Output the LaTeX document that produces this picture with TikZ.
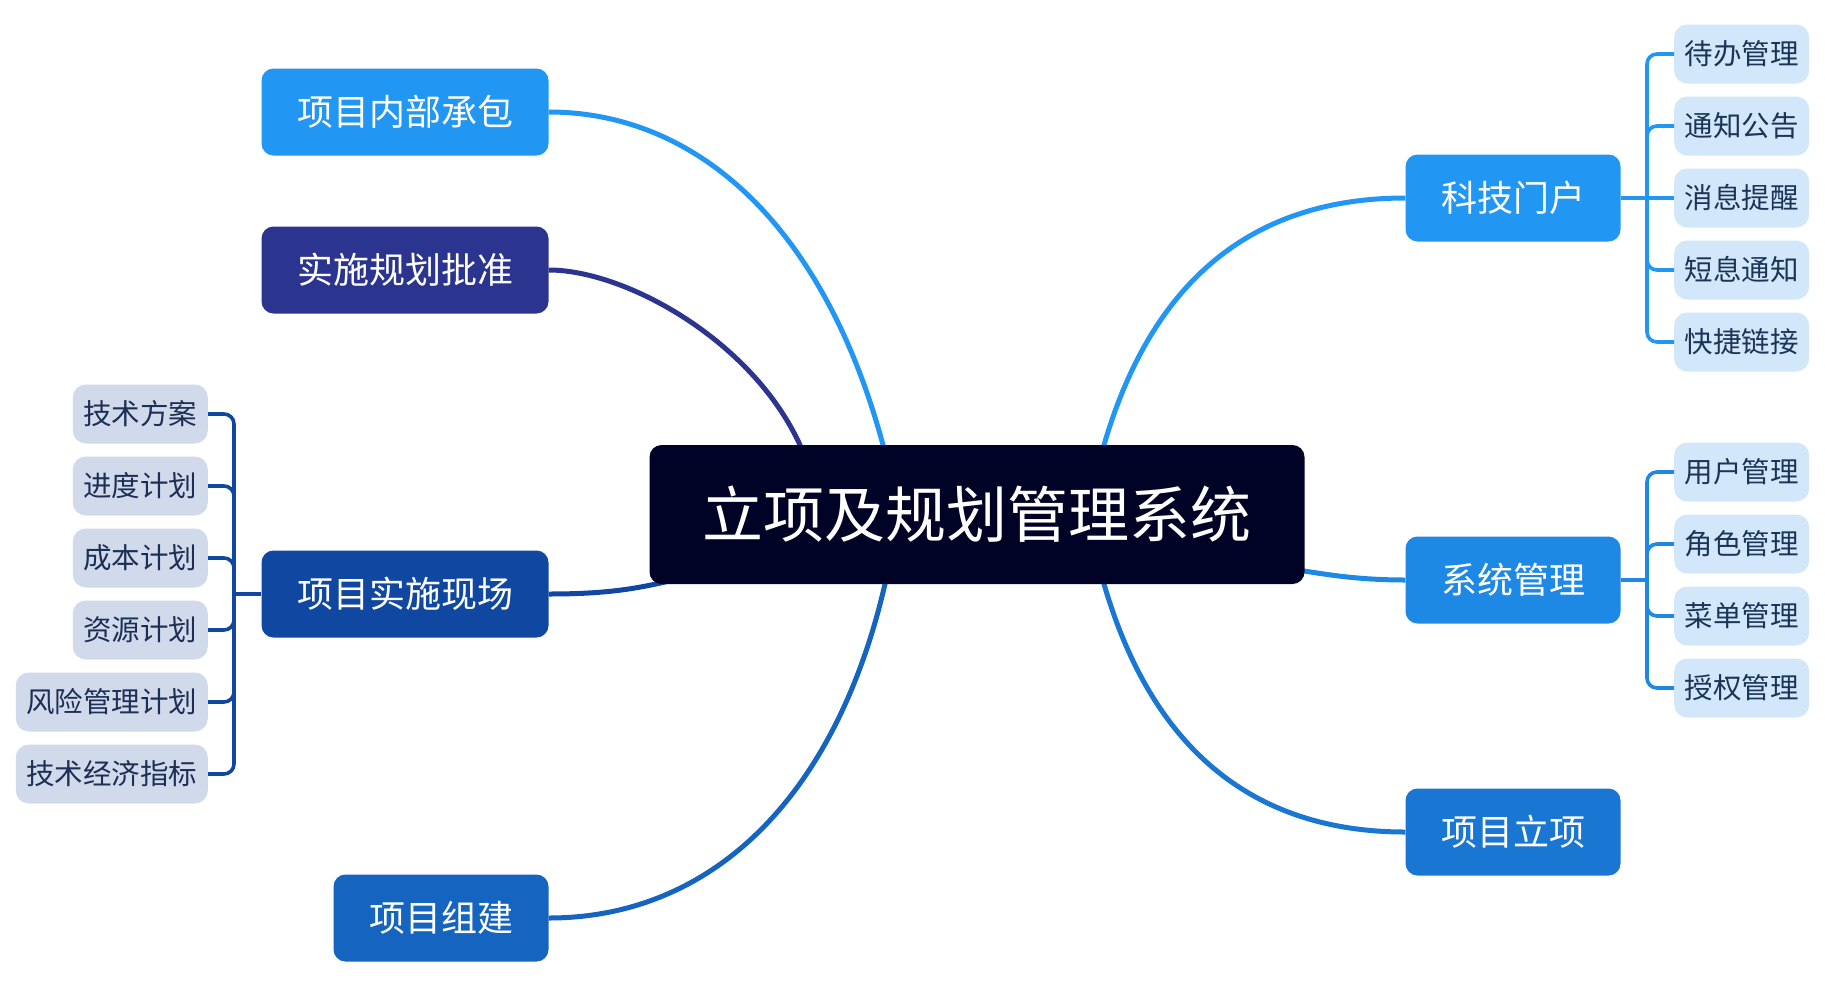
\documentclass[tikz,border=0pt]{standalone}
\usepackage{fontspec}
\setmainfont{Noto Sans CJK SC}
\definecolor{cA}{HTML}{2196F3}
\definecolor{cB}{HTML}{2B3590}
\definecolor{cC}{HTML}{0F47A1}
\definecolor{cD}{HTML}{1565C0}
\definecolor{cE}{HTML}{1E88E5}
\definecolor{cF}{HTML}{1976D2}
\definecolor{cCenter}{HTML}{010326}
\definecolor{leafRfill}{HTML}{D3E7FA}
\definecolor{leafRtext}{HTML}{1B3558}
\definecolor{leafLfill}{HTML}{D0DAEB}
\definecolor{leafLtext}{HTML}{1E2F56}
\begin{document}
\begin{tikzpicture}[x=1pt,y=-1pt,
  mainbox/.style={rounded corners=12pt, text=white, font=\fontsize{36}{40}\selectfont,
    minimum height=87pt, inner xsep=35.5pt, inner ysep=0pt, text height=31.7pt, text depth=4.3pt},
  centerbox/.style={rounded corners=12pt, fill=cCenter, text=white, font=\fontsize{61}{66}\selectfont,
    minimum height=139pt, inner xsep=53pt, inner ysep=0pt, text height=53.7pt, text depth=7.3pt},
  leafR/.style={rounded corners=13pt, fill=leafRfill, text=leafRtext, font=\fontsize{28.5}{32}\selectfont,
    minimum height=59pt, inner xsep=10.5pt, inner ysep=0pt, text height=25.1pt, text depth=3.4pt, anchor=west},
  leafL/.style={rounded corners=13pt, fill=leafLfill, text=leafLtext, font=\fontsize{28.5}{32}\selectfont,
    minimum height=59pt, inner xsep=10.5pt, inner ysep=0pt, text height=25.1pt, text depth=3.4pt, anchor=east},
  branch/.style={line width=5pt},
  bracket/.style={line width=3.6pt, rounded corners=10pt}
]
\useasboundingbox (0,0) rectangle (1825,980);

% main topic nodes
\node[mainbox, fill=cA] (n1) at (405,112) {项目内部承包};
\node[mainbox, fill=cB] (n2) at (405,270) {实施规划批准};
\node[mainbox, fill=cC] (n3) at (405,594) {项目实施现场};
\node[mainbox, fill=cD] (n4) at (441,918) {项目组建};
\node[mainbox, fill=cA] (n5) at (1513,198) {科技门户};
\node[mainbox, fill=cE] (n6) at (1513,580) {系统管理};
\node[mainbox, fill=cF] (n7) at (1513,832) {项目立项};

% left leaves
\node[leafL] (l1) at (208,414) {技术方案};
\node[leafL] (l2) at (208,486) {进度计划};
\node[leafL] (l3) at (208,558) {成本计划};
\node[leafL] (l4) at (208,630) {资源计划};
\node[leafL] (l5) at (208,702) {风险管理计划};
\node[leafL] (l6) at (208,774) {技术经济指标};

% right leaves (科技门户)
\node[leafR] (r1) at (1674,54) {待办管理};
\node[leafR] (r2) at (1674,126) {通知公告};
\node[leafR] (r3) at (1674,198) {消息提醒};
\node[leafR] (r4) at (1674,270) {短息通知};
\node[leafR] (r5) at (1674,342) {快捷链接};

% right leaves (系统管理)
\node[leafR] (s1) at (1674,472) {用户管理};
\node[leafR] (s2) at (1674,544) {角色管理};
\node[leafR] (s3) at (1674,616) {菜单管理};
\node[leafR] (s4) at (1674,688) {授权管理};

% brackets
\coordinate (jl) at (234,594);
\draw[bracket, draw=cC] (n3.west) -- (jl);
\foreach \l in {l1,l2,l3,l4,l5,l6} {\draw[bracket, draw=cC] (jl) |- (\l.east);}

\coordinate (jr1) at (1647,198);
\draw[bracket, draw=cA] (n5.east) -- (r3.west);
\foreach \r in {r1,r2,r4,r5} {\draw[bracket, draw=cA] (jr1) |- (\r.west);}

\coordinate (jr2) at (1647,580);
\draw[bracket, draw=cE] (n6.east) -- (jr2);
\foreach \s in {s1,s2,s3,s4} {\draw[bracket, draw=cE] (jr2) |- (\s.west);}

% ends of branches at the central topic
\coordinate (e1) at (883,445);
\coordinate (e2) at (800,445);
\coordinate (e3) at (665,582);
\coordinate (e4) at (885,584);
\coordinate (e5) at (1104,445);
\coordinate (e6) at (1304,571);
\coordinate (e7) at (1104,584);

% branches
\draw[branch, draw=cA] (n1.east) .. controls (695,112) and (823,223) .. (e1) -- ++(3,14);
\draw[branch, draw=cB] (n2.east) .. controls (625,270) and (752,340) .. (e2) -- ++(5,14);
\draw[branch, draw=cC] (n3.east) .. controls (600,594) and (630,590) .. (e3) -- ++(15,-4);
\draw[branch, draw=cD] (n4.east) .. controls (710,918) and (835,800) .. (e4) -- ++(3,-14);
\draw[branch, draw=cA] (n5.west) .. controls (1253,198) and (1152,280) .. (e5) -- ++(-3,14);
\draw[branch, draw=cE] (n6.west) .. controls (1360,580) and (1330,575) .. (e6) -- ++(-15,-2);
\draw[branch, draw=cF] (n7.west) .. controls (1253,832) and (1152,749) .. (e7) -- ++(-3,-14);

% central topic
\node[centerbox] (c) at (977,514.5) {立项及规划管理系统};
\end{tikzpicture}
\end{document}
